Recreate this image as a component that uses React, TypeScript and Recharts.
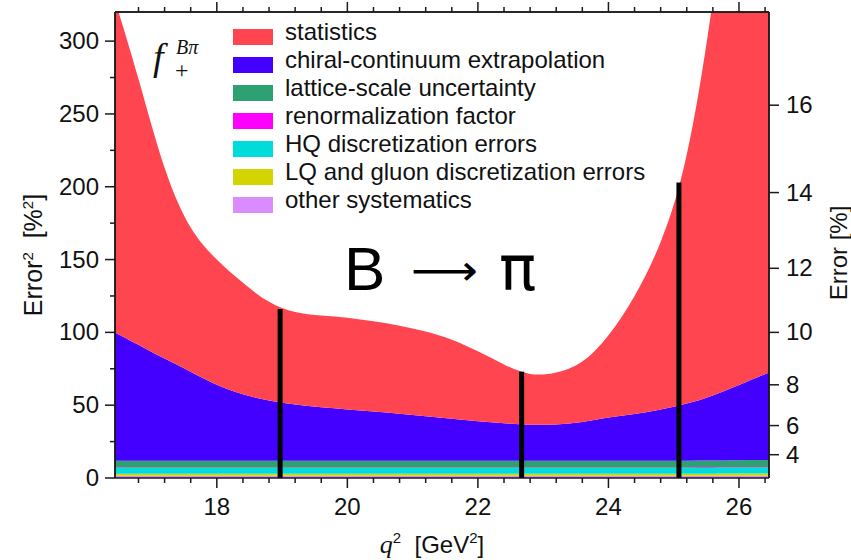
import React from 'react';
import { ComposedChart, Area, XAxis, YAxis, ReferenceLine, Legend } from 'recharts';

// q^2 sample points [GeV^2]
const q2 = [16.44, 16.8, 17.2, 17.6, 18.0, 18.4, 18.8, 19.2, 19.6, 20.0, 20.4, 20.8, 21.2, 21.6, 22.0, 22.4, 22.8, 23.2, 23.6, 24.0, 24.4, 24.8, 25.2, 25.6, 26.0, 26.46];

// error budget contributions [%^2] (stacked, bottom to top: other, LQ, HQ, renorm, lattice, chiral, statistics)
const otherSystematics = [1.5, 1.5, 1.5, 1.5, 1.5, 1.5, 1.5, 1.5, 1.5, 1.5, 1.5, 1.5, 1.5, 1.5, 1.5, 1.5, 1.5, 1.5, 1.5, 1.5, 1.5, 1.5, 1.5, 1.5, 1.6, 1.6];
const lqGluonDisc = [1.5, 1.5, 1.5, 1.5, 1.5, 1.5, 1.5, 1.5, 1.5, 1.5, 1.5, 1.5, 1.5, 1.5, 1.5, 1.5, 1.5, 1.5, 1.5, 1.5, 1.5, 1.5, 1.5, 1.5, 1.5, 1.5];
const hqDisc = [3.8, 3.8, 3.8, 3.8, 3.8, 3.8, 3.8, 3.8, 3.8, 3.8, 3.8, 3.8, 3.8, 3.8, 3.8, 3.8, 3.8, 3.8, 3.8, 3.8, 3.8, 3.8, 3.8, 3.9, 3.9, 3.9];
const renormalization = [0.4, 0.4, 0.4, 0.4, 0.4, 0.4, 0.4, 0.4, 0.4, 0.4, 0.4, 0.4, 0.4, 0.4, 0.4, 0.4, 0.4, 0.4, 0.4, 0.4, 0.4, 0.4, 0.4, 0.4, 0.4, 0.4];
const latticeScale = [4.6, 4.6, 4.6, 4.6, 4.6, 4.6, 4.6, 4.6, 4.7, 4.7, 4.7, 4.7, 4.7, 4.6, 4.6, 4.6, 4.6, 4.6, 4.6, 4.6, 4.6, 4.7, 4.7, 4.7, 4.8, 4.9];
const chiralContinuum = [88.2, 79.7, 70.2, 61.2, 52.2, 45.7, 41.5, 38.7, 36.7, 35.2, 33.7, 32.2, 30.5, 28.9, 27.2, 25.8, 24.8, 25.0, 26.7, 29.7, 32.2, 35.2, 39.2, 44.7, 51.7, 60.2];
const statistics = [228, 182.5, 131, 99, 86, 76.5, 67.7, 63.5, 63, 63, 62, 60.5, 58.2, 54.3, 48, 40.4, 34.9, 35.7, 41.5, 56.5, 81, 115, 171, 271.5, 406.5, 578];

const seriesKeys = ['other', 'lq', 'hq', 'renorm', 'lattice', 'chiral', 'stat'];
const seriesValues = [otherSystematics, lqGluonDisc, hqDisc, renormalization, latticeScale, chiralContinuum, statistics];
const seriesColors = ['#d88cff', '#d4d400', '#00dcdc', '#ff00ff', '#2ea173', '#4400ff', '#ff4650'];

const legendNames = ['statistics', 'chiral-continuum extrapolation', 'lattice-scale uncertainty', 'renormalization factor', 'HQ discretization errors', 'LQ and gluon discretization errors', 'other systematics'];
const legendColors = ['#ff4650', '#4400ff', '#2ea173', '#ff00ff', '#00dcdc', '#d4d400', '#d88cff'];

// lattice data points: q^2 and total error^2 (black bars)
const dataQ2 = [18.97, 22.67, 25.08];
const dataErr2 = [116, 73, 203];

const xDomain = [16.44, 26.46];
const yDomain = [0, 320];
const xTicks = [16.8, 17.2, 17.6, 18, 18.4, 18.8, 19.2, 19.6, 20, 20.4, 20.8, 21.2, 21.6, 22, 22.4, 22.8, 23.2, 23.6, 24, 24.4, 24.8, 25.2, 25.6, 26, 26.4];
const yTicks = [0, 25, 50, 75, 100, 125, 150, 175, 200, 225, 250, 275, 300];
const errPercentTicks = [4, 6, 8, 10, 12, 14, 16];

const data = q2.map((q, i) => {
  const row: any = { q };
  seriesKeys.forEach((k, j) => { row[k] = seriesValues[j][i]; });
  return row;
});

const FONT = 'Liberation Sans, Arial, Helvetica, sans-serif';
const SERIF = 'Liberation Serif, Times New Roman, serif';
const AX = '#1a1a1a';

const isMajorX = (v: number) => Math.abs(v - Math.round(v)) < 1e-6 && Math.round(v) % 2 === 0;

const BottomTick = (props: any) => {
  const { x, y, payload } = props;
  const v = payload.value;
  const major = isMajorX(v);
  return (
    <g>
      <line x1={x} x2={x} y1={y} y2={y + (major ? 10 : 5)} stroke={AX} strokeWidth={1.5} />
      {major && (
        <text x={x} y={y + 37} textAnchor="middle" fontSize={24} fontFamily={FONT} fill="#111">{Math.round(v)}</text>
      )}
    </g>
  );
};

const TopTick = (props: any) => {
  const { x, y, payload } = props;
  const major = isMajorX(payload.value);
  return <line x1={x} x2={x} y1={y} y2={y - (major ? 10 : 5)} stroke={AX} strokeWidth={1.5} />;
};

const LeftTick = (props: any) => {
  const { x, y, payload } = props;
  const v = payload.value;
  const major = v % 50 === 0;
  return (
    <g>
      <line x1={x - (major ? 10 : 5)} x2={x} y1={y} y2={y} stroke={AX} strokeWidth={1.5} />
      {major && (
        <text x={x - 16} y={y + 8} textAnchor="end" fontSize={24} fontFamily={FONT} fill="#111">{v}</text>
      )}
    </g>
  );
};

const RightTick = (props: any) => {
  const { x, y, payload } = props;
  const v = payload.value;
  return (
    <g>
      <line x1={x} x2={x + 10} y1={y} y2={y} stroke={AX} strokeWidth={1.5} />
      <text x={x + 17} y={y + 8} textAnchor="start" fontSize={24} fontFamily={FONT} fill="#111">{Math.round(Math.sqrt(v))}</text>
    </g>
  );
};

const LegendBox = () => (
  <svg width={460} height={220} style={{ display: 'block', overflow: 'visible' }}>
    {legendNames.map((name, i) => (
      <g key={name}>
        <rect x={3} y={19 + i * 28} width={40} height={16} fill={legendColors[i]} />
        <text x={55} y={30 + i * 28} fontSize={24} fontFamily={FONT} fill="#111">{name}</text>
      </g>
    ))}
  </svg>
);

export default function App() {
  return (
    <div style={{ position: 'absolute', left: 0, top: 0, width: 851, height: 560, background: '#fff' }}>
      <ComposedChart width={851} height={560} data={data} margin={{ top: 0, right: 0, bottom: 0, left: 0 }}>
        <XAxis xAxisId="bottom" dataKey="q" type="number" domain={xDomain} allowDataOverflow ticks={xTicks}
          interval={0} height={82} tickSize={0} tickMargin={0} tick={BottomTick} axisLine={{ stroke: AX, strokeWidth: 1.5 }} />
        <XAxis xAxisId="top" orientation="top" dataKey="q" type="number" domain={xDomain} allowDataOverflow ticks={xTicks}
          interval={0} height={12} tickSize={0} tickMargin={0} tick={TopTick} axisLine={{ stroke: AX, strokeWidth: 1.5 }} />
        <YAxis yAxisId="left" type="number" domain={yDomain} allowDataOverflow ticks={yTicks} interval={0} width={115}
          tickSize={0} tickMargin={0} tick={LeftTick} axisLine={{ stroke: AX, strokeWidth: 1.5 }} />
        <YAxis yAxisId="right" orientation="right" type="number" domain={yDomain} allowDataOverflow
          ticks={errPercentTicks.map((e) => e * e)} interval={0} width={82}
          tickSize={0} tickMargin={0} tick={RightTick} axisLine={{ stroke: AX, strokeWidth: 1.5 }} />
        {seriesKeys.map((k, j) => (
          <Area key={k} xAxisId="bottom" yAxisId="left" dataKey={k} stackId="err" type="natural"
            stroke="none" fill={seriesColors[j]} fillOpacity={1} isAnimationActive={false} />
        ))}
        {dataQ2.map((q, i) => (
          <ReferenceLine key={q} xAxisId="bottom" yAxisId="left" segment={[{ x: q, y: 0 }, { x: q, y: dataErr2[i] }]}
            stroke="#000" strokeWidth={5} ifOverflow="visible" />
        ))}
        <ReferenceLine xAxisId="bottom" yAxisId="left" y={yDomain[1]} stroke={AX} strokeWidth={1.5} />
        <ReferenceLine xAxisId="bottom" yAxisId="left" x={xDomain[1]} stroke={AX} strokeWidth={1.5} />
        <ReferenceLine xAxisId="bottom" yAxisId="left" x={xDomain[0]} stroke={AX} strokeWidth={1.5} />
        <Legend layout="horizontal" align="center" verticalAlign="middle" content={LegendBox}
          wrapperStyle={{ position: 'absolute', left: 230, top: 10, width: 460, height: 220 }} />
      </ComposedChart>
      <svg width={851} height={560} style={{ position: 'absolute', left: 0, top: 0, pointerEvents: 'none' }}>
        <text fontFamily={SERIF} fontStyle="italic" fill="#111">
          <tspan x={153} y={70} fontSize={38}>f</tspan>
          <tspan x={176} y={54} fontSize={20}>Bπ</tspan>
        </text>
        <text x={175} y={78} fontFamily={SERIF} fontSize={24} fill="#111">+</text>
        <text x={344} y={290} fontSize={62} fontFamily={FONT} fill="#000">B</text>
        <text x={411} y={285} fontSize={42} fontFamily="DejaVu Sans, sans-serif" fill="#000"
          textLength={67} lengthAdjust="spacingAndGlyphs">⟶</text>
        <text x={499} y={290} fontSize={62} fontFamily="DejaVu Sans, sans-serif" fill="#000">π</text>
        <text transform="rotate(-90)" x={-255} y={42} textAnchor="middle" fontSize={25} fontFamily={FONT} fill="#111">
          Error<tspan dy={-9} fontSize={15}>2</tspan><tspan dy={9}>{'\u00a0\u00a0[%'}</tspan><tspan dy={-9} fontSize={15}>2</tspan><tspan dy={9}>]</tspan>
        </text>
        <text transform="rotate(-90)" x={-253} y={847} textAnchor="middle" fontSize={24} fontFamily={FONT} fill="#111">Error [%]</text>
        <text x={432} y={553} textAnchor="middle" fontSize={24} fontFamily={FONT} fill="#111">
          <tspan fontFamily={SERIF} fontStyle="italic" fontSize={26}>q</tspan>
          <tspan dy={-10} fontSize={15}>2</tspan>
          <tspan dy={10}>{'\u00a0\u00a0[GeV'}</tspan>
          <tspan dy={-10} fontSize={15}>2</tspan>
          <tspan dy={10}>]</tspan>
        </text>
      </svg>
    </div>
  );
}
